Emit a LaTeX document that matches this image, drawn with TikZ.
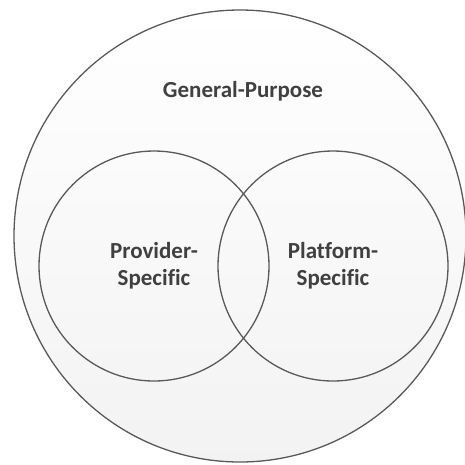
\documentclass[tikz,border=0pt]{standalone}
\usepackage{fontspec}
\setmainfont{Carlito}[Ligatures=NoCommon]
\usepackage{tikz}

\definecolor{rim}{HTML}{595959}
\definecolor{ink}{HTML}{404040}

\begin{document}
\begin{tikzpicture}
          [x=1pt,y=1pt,every node/.style={draw=rim,line width=1.3pt,shape=circle,inner sep=0pt},
           txt/.style={draw=none,shape=rectangle,align=center,text=ink,font=\fontsize{23}{27}\selectfont\bfseries}]

          \useasboundingbox (0,0) rectangle (465,-464);

          \node[minimum size=452pt,top color=white,bottom color=black!5] (gp) at (240,-236) {};
          \node[minimum size=230pt] (prov) at (154,-266) {};
          \node[minimum size=230pt] (plat) at (333,-266) {};

          \node[txt] (gplabel) at (243,-91) {General-Purpose};
          \node[txt] (provlabel) at (prov) {Provider-\\Specific};
          \node[txt] (platlabel) at (plat) {Platform-\\Specific};
        \end{tikzpicture}
\end{document}
